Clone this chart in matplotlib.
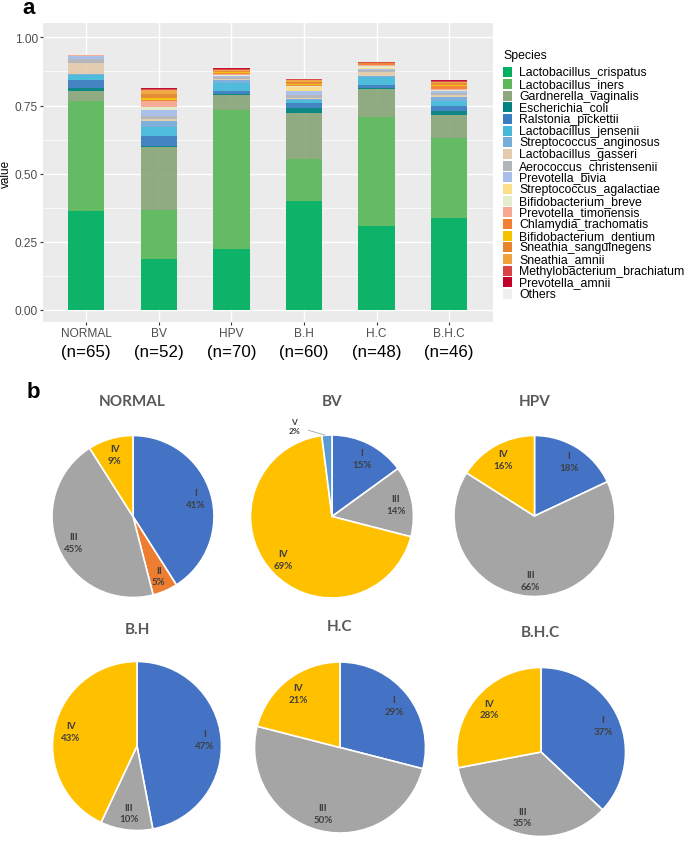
import matplotlib
matplotlib.use('Agg')
import matplotlib.pyplot as plt
from matplotlib.patches import Rectangle
from matplotlib.ticker import FixedLocator
import numpy as np

# ---------------- data ----------------
groups = ['NORMAL', 'BV', 'HPV', 'B.H', 'H.C', 'B.H.C']
n_labels = ['(n=65)', '(n=52)', '(n=70)', '(n=60)', '(n=48)', '(n=46)']

species = ['Lactobacillus_crispatus', 'Lactobacillus_iners', 'Gardnerella_vaginalis',
           'Escherichia_coli', 'Ralstonia_pickettii', 'Lactobacillus_jensenii',
           'Streptococcus_anginosus', 'Lactobacillus_gasseri', 'Aerococcus_christensenii',
           'Prevotella_bivia', 'Streptococcus_agalactiae', 'Bifidobacterium_breve',
           'Prevotella_timonensis', 'Chlamydia_trachomatis', 'Bifidobacterium_dentium',
           'Sneathia_sanguinegens', 'Sneathia_amnii', 'Methylobacterium_brachiatum',
           'Prevotella_amnii', 'Others']

species_colors = ['#00B062', '#5CB85B', '#8BA77B', '#00827E', '#3A7EC1', '#46B9DB',
                  '#76AEDA', '#E3CCAD', '#B1B4B8', '#A7BEE9', '#FCDD88', '#E4ECCB',
                  '#F8A68F', '#F57F32', '#F3C300', '#E6852C', '#F1A33B', '#D94343',
                  '#C2002A', '#EFEFEF']

# relative abundance per species, in group order
crispatus    = [0.362, 0.185, 0.224, 0.400, 0.307, 0.337]
iners        = [0.404, 0.180, 0.510, 0.153, 0.402, 0.292]
gardnerella  = [0.037, 0.231, 0.056, 0.169, 0.103, 0.085]
ecoli        = [0.011, 0.005, 0.002, 0.020, 0.002, 0.017]
ralstonia    = [0.030, 0.037, 0.012, 0.017, 0.012, 0.017]
jensenii     = [0.018, 0.032, 0.030, 0.010, 0.030, 0.020]
anginosus    = [0.002, 0.024, 0.009, 0.005, 0.003, 0.012]
gasseri      = [0.042, 0.007, 0.006, 0.005, 0.013, 0.007]
aerococcus   = [0.016, 0.010, 0.004, 0.010, 0.008, 0.010]
bivia        = [0.010, 0.022, 0.005, 0.014, 0.004, 0.007]
agalactiae   = [0.001, 0.002, 0.002, 0.015, 0.005, 0.001]
breve        = [0.000, 0.010, 0.003, 0.002, 0.005, 0.002]
timonensis   = [0.001, 0.020, 0.004, 0.002, 0.003, 0.005]
chlamydia    = [0.001, 0.004, 0.004, 0.003, 0.004, 0.010]
dentium      = [0.000, 0.007, 0.002, 0.003, 0.002, 0.002]
sanguinegens = [0.001, 0.015, 0.004, 0.008, 0.002, 0.008]
sn_amnii     = [0.001, 0.015, 0.004, 0.006, 0.001, 0.006]
methylo      = [0.000, 0.003, 0.002, 0.004, 0.002, 0.002]
pv_amnii     = [0.000, 0.004, 0.006, 0.003, 0.001, 0.002]
others       = [0.001, 0.001, 0.001, 0.001, 0.001, 0.001]

abundance = [crispatus, iners, gardnerella, ecoli, ralstonia, jensenii, anginosus,
             gasseri, aerococcus, bivia, agalactiae, breve, timonensis, chlamydia,
             dentium, sanguinegens, sn_amnii, methylo, pv_amnii, others]

# CST pie charts
cst_names = ['I', 'II', 'III', 'IV', 'V']
cst_colors = ['#4472C4', '#ED7D31', '#A5A5A5', '#FFC000', '#5B9BD5']
pie_normal = [41, 5, 45, 9, 0]
pie_bv     = [15, 0, 14, 69, 2]
pie_hpv    = [18, 0, 66, 16, 0]
pie_bh     = [47, 0, 10, 43, 0]
pie_hc     = [29, 0, 50, 21, 0]
pie_bhc    = [37, 0, 35, 28, 0]
pie_values = [pie_normal, pie_bv, pie_hpv, pie_bh, pie_hc, pie_bhc]

# ---------------- figure ----------------
W, H = 685, 845
fig = plt.figure(figsize=(W / 100, H / 100), dpi=100)
fig.patch.set_facecolor('white')


def fx(px):
    return px / W


def fy(py):
    return 1 - py / H


SANS = ['Liberation Sans', 'DejaVu Sans']
PIEF = ['Lato', 'DejaVu Sans']

# ---- panel a: stacked bars ----
left, right, top, bottom = 42.7, 492.7, 24.0, 323.3
ax = fig.add_axes([fx(left), fy(bottom), (right - left) / W, (bottom - top) / H])
ax.set_facecolor('#EBEBEB')
x = np.arange(1, len(groups) + 1)
base = np.zeros(len(groups))
containers = []
for name, vals, col in zip(species, abundance, species_colors):
    vals = np.array(vals)
    bc = ax.bar(x, vals, bottom=base, width=0.5, color=col, alpha=0.94,
                linewidth=0, label=name, zorder=2)
    containers.append(bc)
    base = base + vals

ax.set_xlim(0.4, 6.6)
ax.set_ylim(-0.046, 1.053)
ax.yaxis.set_major_locator(FixedLocator([0, 0.25, 0.5, 0.75, 1.0]))
ax.yaxis.set_minor_locator(FixedLocator([0.125, 0.375, 0.625, 0.875]))
ax.set_yticklabels(['0.00', '0.25', '0.50', '0.75', '1.00'])
ax.set_xticks(x)
ax.set_xticklabels(groups)
ax.grid(which='major', color='white', lw=1.0, zorder=0)
ax.grid(which='minor', axis='y', color='white', lw=0.5, zorder=0)
ax.set_axisbelow(True)
for s in ax.spines.values():
    s.set_visible(False)
ax.tick_params(axis='both', which='major', length=2.5, width=0.8, color='#333333',
               labelcolor='#4D4D4D', labelsize=8.6)
ax.tick_params(axis='y', pad=0.8)
ax.tick_params(axis='x', pad=1.2)
ax.tick_params(which='minor', length=0)
for lab in ax.get_xticklabels() + ax.get_yticklabels():
    lab.set_fontfamily(SANS)
ax.set_ylabel('value', fontsize=8.5, fontfamily=SANS, color='black', labelpad=2)

for xi, nl in zip(x, n_labels):
    ax.text(xi, -0.096, nl, transform=ax.get_xaxis_transform(), ha='center',
            va='center', fontsize=12.2, fontfamily=SANS, color='black')

fig.text(fx(22), fy(9), 'a', fontsize=16, fontweight='bold', fontfamily=SANS,
         ha='left', va='center')

# legend (drawn manually for precise spacing)
fig.text(fx(503), fy(56), 'Species', fontsize=8.8, fontfamily=SANS, ha='left',
         va='center', color='black')
pitch = 11.67
for i, (name, bc) in enumerate(zip(species, containers)):
    yc = 73.3 + i * pitch
    col = bc.patches[0].get_facecolor()
    fig.patches.append(Rectangle((fx(503.3), fy(yc + 5.0)), 9 / W, 10 / H,
                                 transform=fig.transFigure, facecolor=col[:3],
                                 edgecolor='none'))
    fig.text(fx(519), fy(yc), name, fontsize=8.8, fontfamily=SANS, ha='left',
             va='center', color='black')

# ---- panel b: pies ----
fig.text(fx(27), fy(392), 'b', fontsize=16, fontweight='bold', fontfamily=SANS,
         ha='left', va='center')

pie_geom = [(133, 517.5, 81), (332, 517.5, 81.5), (534.5, 517, 80.5),
            (137, 747, 84.5), (340, 748.5, 85.5), (541, 753, 84.5)]
title_pos = [(132, 402), (332, 402), (535, 402), (137, 630), (339, 627), (540, 633)]

for g, vals, (cx, cy, r), (tx, ty) in zip(groups, pie_values, pie_geom, title_pos):
    pax = fig.add_axes([fx(cx - r), fy(cy + r), 2 * r / W, 2 * r / H])
    keep = [i for i, v in enumerate(vals) if v > 0]
    v = [vals[i] for i in keep]
    cols = [cst_colors[i] for i in keep]
    labs = [f'{cst_names[i]}\n{vals[i]}%' for i in keep]
    wedges, texts = pax.pie(v, colors=cols, startangle=90, counterclock=False,
                            labels=labs, labeldistance=0.8, radius=1.0,
                            wedgeprops=dict(edgecolor='white', linewidth=1.2),
                            textprops=dict(fontsize=7.0, fontweight='bold',
                                           color='#3F3F3F', fontfamily=PIEF,
                                           linespacing=1.4))
    for t, w, val in zip(texts, wedges, v):
        t.set_ha('center')
        t.set_va('center')
        if val < 3:
            t.set_visible(False)
            mid = np.deg2rad((w.theta1 + w.theta2) / 2)
            ex, ey = np.cos(mid), np.sin(mid)
            pax.annotate(t.get_text(), xy=(ex - 0.02, ey), xytext=(ex - 0.4, ey + 0.11),
                         ha='center', va='center', fontsize=6.0, fontweight='bold',
                         color='#3F3F3F', fontfamily=PIEF, linespacing=1.4,
                         annotation_clip=False,
                         arrowprops=dict(arrowstyle='-', color='#A6A6A6', lw=0.6,
                                         shrinkA=4, shrinkB=0))
    pax.set_xlim(-1, 1)
    pax.set_ylim(-1, 1)
    pax.set_aspect('auto')
    pax.axis('off')
    fig.text(fx(tx), fy(ty), g, fontsize=11, fontweight='bold', fontfamily=PIEF,
             color='#595959', ha='center', va='center')

fig.savefig('out.png', dpi=100, facecolor='white')
